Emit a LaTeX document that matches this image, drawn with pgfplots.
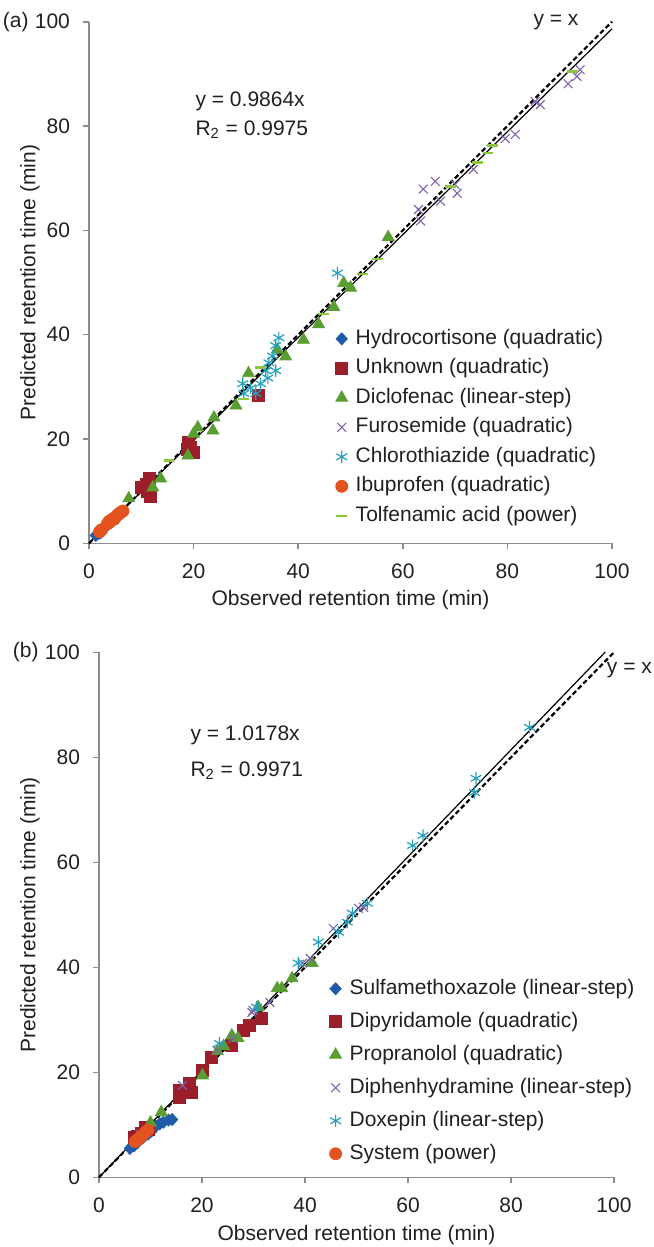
\documentclass[border=0pt]{standalone}
\usepackage{fontspec}
\setmainfont{Liberation Sans}
\usepackage{pgfplots}
\pgfplotsset{compat=1.18}
\definecolor{txt}{HTML}{231F20}
\definecolor{axisgray}{HTML}{8C8C8C}
\definecolor{cBlue}{HTML}{1F5BA7}
\definecolor{cRed}{HTML}{9B1E2A}
\definecolor{cGreen}{HTML}{5A9E32}
\definecolor{cPurple}{HTML}{7E63AC}
\definecolor{cCyan}{HTML}{22A0BE}
\definecolor{cOrange}{HTML}{E2531F}
\definecolor{cLGreen}{HTML}{8DC63F}
\newcommand\myfont{\fontsize{10.5}{12.6}\selectfont}
\pgfplotsset{myaxis/.style={
  scale only axis, xmin=0, xmax=100, ymin=0, ymax=100,
  xtick={0,20,...,100}, ytick={0,20,...,100},
  axis x line*=bottom, axis y line*=left,
  axis line style={draw=axisgray, line width=0.8pt, -},
  tick style={draw=axisgray, line width=0.8pt}, tick align=outside, major tick length=3pt,
  font=\myfont, tick label style={font=\myfont, text=txt},
  xticklabel style={yshift=-3.5pt}, yticklabel style={xshift=-3pt},
  /pgf/number format/assume math mode=true,
  label style={font=\myfont, text=txt},
  clip=false,
  legend cell align=left,
  legend style={draw=none, fill=none, inner sep=0pt, font=\myfont, text=txt,
    nodes={inner sep=0pt, text height=7.5pt, text depth=2pt},
    /tikz/every odd column/.append style={column sep=4pt}},
  legend image code/.code={\draw[mark repeat=2,mark phase=2] plot coordinates {(0pt,0pt)(4pt,0pt)(8pt,0pt)};},
},
 sBlue/.style={only marks, mark=diamond*, mark size=3pt, color=cBlue, mark options={fill=cBlue, draw=cBlue, xscale=1.25}},
 sRed/.style={only marks, mark=square*, mark size=3pt, color=cRed, mark options={fill=cRed, draw=cRed}},
 sGreen/.style={only marks, mark=triangle*, mark size=3.4pt, color=cGreen, mark options={fill=cGreen, draw=cGreen}},
 sPurple/.style={only marks, mark=x, mark size=3.1pt, color=cPurple, mark options={line width=0.55pt}},
 sCyan/.style={only marks, mark=asterisk, mark size=3.1pt, color=cCyan, mark options={line width=0.6pt}},
 sOrange/.style={only marks, mark=*, mark size=3pt, color=cOrange, mark options={fill=cOrange, draw=cOrange}},
 sLGreen/.style={only marks, mark=-, mark size=2.7pt, color=cLGreen, mark options={line width=1.3pt}},
}
\begin{document}
\begin{tikzpicture}
\useasboundingbox (0,0) rectangle (326.5pt,-623.5pt);
% ---------------- panel (a)
\begin{axis}[myaxis, at={(44.5pt,-271.65pt)}, anchor=south west,
  width=261.5pt, height=260.8pt,
  xlabel={Observed retention time (min)}, ylabel={Predicted retention time (min)},
  xlabel style={at={(axis description cs:0.5,-0.109)}, anchor=center},
  ylabel style={at={(axis description cs:-0.113,0.5)}, anchor=center},
  legend style={at={(axis cs:47.1,41.1)}, anchor=north west, row sep=5.25pt}]
\addplot[sBlue] coordinates {(1.3,1.5)(1.8,1.9)(2.2,2.0)(2.6,2.5)};
\addlegendentry{Hydrocortisone (quadratic)}
\addplot[sRed] coordinates {(10.0,10.7)(11.0,11.3)(11.5,12.4)(11.8,9.0)(11.2,10.0)(19.0,19.4)(19.4,18.4)(20.0,17.5)(18.8,18.0)(32.3,28.3)};
\addlegendentry{Unknown (quadratic)}
\addplot[sGreen] coordinates {(7.6,8.6)(12.2,10.7)(13.7,12.4)(18.9,16.8)(20.0,21.0)(20.8,22.2)(23.7,21.6)(23.9,24.1)(28.1,26.4)(30.5,32.6)(36.0,37.1)(37.6,35.8)(41.0,39.0)(43.9,42.0)(46.8,45.3)(48.7,49.9)(50.0,49.0)(57.2,58.7)};
\addlegendentry{Diclofenac (linear-step)}
\addplot[sPurple] coordinates {(63.4,61.8)(63.0,64.0)(63.9,67.9)(66.2,69.4)(67.2,65.6)(70.0,68.8)(70.4,67.1)(73.5,71.7)(79.6,77.6)(81.5,78.4)(85.3,84.7)(86.3,84.1)(91.6,88.1)(93.3,89.5)(93.9,90.8)};
\addlegendentry{Furosemide (quadratic)}
\addplot[sCyan] coordinates {(29.4,30.6)(29.6,28.7)(30.9,29.8)(31.9,28.7)(32.8,30.6)(33.8,33.1)(34.2,31.7)(34.4,34.6)(35.1,35.9)(35.7,37.9)(35.7,33.1)(36.3,39.4)(47.5,51.8)};
\addlegendentry{Chlorothiazide (quadratic)}
\addplot[sOrange] coordinates {(2.0,2.2)(2.4,2.6)(3.5,3.7)(3.8,4.2)(4.0,4.1)(4.3,4.5)(4.6,4.7)(4.8,4.6)(5.0,5.0)(5.3,5.3)(5.6,5.5)(5.9,5.8)(6.2,6.0)(6.5,6.2)};
\addlegendentry{Ibuprofen (quadratic)}
\addplot[sLGreen] coordinates {(15.3,15.9)(29.6,27.7)(32.8,33.7)(44.8,44.0)(52.3,51.6)(55.2,54.5)(69.1,68.4)(74.3,73.0)(76.3,74.8)(77.1,76.3)(92.4,90.4)};
\addlegendentry{Tolfenamic acid (power)}
\addplot[forget plot, black, line width=0.6pt] coordinates {(0,0)(100,98.64)};
\addplot[forget plot, black, line width=1.1pt, dash pattern=on 2.4pt off 1.4pt] coordinates {(0,0)(100,100)};
\node[anchor=west, inner sep=0pt, text=txt, font=\myfont] at (axis cs:20.3,84.7) {y = 0.9864x};
\node[anchor=west, inner sep=0pt, text=txt, font=\myfont] at (axis cs:20.3,79.3) {R\textsubscript{2} = 0.9975};
\node[text=txt, font=\myfont] at (axis cs:89.3,100) {y = x};
\node[anchor=east, inner sep=0pt, text=txt, font=\myfont] at (axis cs:0,100) [xshift=-30pt] {(a)};
\end{axis}
% ---------------- panel (b)
\begin{axis}[myaxis, at={(49.5pt,-588.65pt)}, anchor=south west,
  width=257.5pt, height=262.5pt,
  xlabel={Observed retention time (min)}, ylabel={Predicted retention time (min)},
  xlabel style={at={(axis description cs:0.5,-0.11)}, anchor=center},
  ylabel style={at={(axis description cs:-0.134,0.5)}, anchor=center},
  legend style={at={(axis cs:44.7,37.8)}, anchor=north west, row sep=7pt}]
\addplot[sBlue] coordinates {(6.0,5.5)(6.8,6.0)(7.5,6.6)(8.5,7.5)(9.5,8.2)(10.2,8.8)(11.0,9.7)(11.8,10.2)(12.5,10.5)(13.5,10.9)(14.2,11.0)};
\addlegendentry{Sulfamethoxazole (linear-step)}
\addplot[sRed] coordinates {(6.8,7.6)(7.5,7.8)(8.2,8.3)(9.1,9.5)(9.6,9.2)(15.6,16.6)(15.6,15.2)(17.6,17.9)(17.9,16.2)(20.1,20.4)(21.9,22.9)(25.8,25.1)(28.0,28.0)(29.3,29.0)(31.6,30.3)};
\addlegendentry{Dipyridamole (quadratic)}
\addplot[sGreen] coordinates {(10.0,10.4)(12.1,12.4)(20.1,19.4)(23.0,24.0)(24.2,25.0)(25.8,27.0)(27.0,26.5)(30.9,32.4)(34.6,36.0)(35.5,36.0)(37.5,37.9)(41.4,40.8)};
\addlegendentry{Propranolol (quadratic)}
\addplot[sPurple] coordinates {(8.0,8.2)(16.2,17.5)(22.9,24.2)(26.0,26.5)(29.7,31.4)(29.9,31.8)(33.2,33.3)(39.5,40.8)(41.0,41.7)(45.5,47.4)(50.4,51.2)(51.4,51.4)};
\addlegendentry{Diphenhydramine (linear-step)}
\addplot[sCyan] coordinates {(23.4,25.5)(30.6,32.4)(38.7,40.8)(42.6,44.8)(46.5,46.7)(48.2,48.6)(49.2,50.3)(52.1,52.2)(60.9,63.2)(62.9,65.1)(72.9,73.3)(73.2,76.0)(83.6,85.7)};
\addlegendentry{Doxepin (linear-step)}
\addplot[sOrange] coordinates {(7.0,6.8)(7.5,7.2)(8.0,7.6)(8.5,8.0)(9.0,8.6)(9.5,9.0)};
\addlegendentry{System (power)}
\addplot[forget plot, black, line width=0.6pt] coordinates {(0,0)(98.3,100.05)};
\addplot[forget plot, black, line width=1.1pt, dash pattern=on 2.4pt off 1.4pt] coordinates {(0,0)(100,100)};
\node[anchor=west, inner sep=0pt, text=txt, font=\myfont] at (axis cs:17.7,84.2) {y = 1.0178x};
\node[anchor=west, inner sep=0pt, text=txt, font=\myfont] at (axis cs:17.7,77.5) {R\textsubscript{2} = 0.9971};
\node[text=txt, font=\myfont] at (axis cs:103,96.6) {y = x};
\node[anchor=east, inner sep=0pt, text=txt, font=\myfont] at (axis cs:0,100) [xshift=-30pt] {(b)};
\end{axis}
\end{tikzpicture}
\end{document}
